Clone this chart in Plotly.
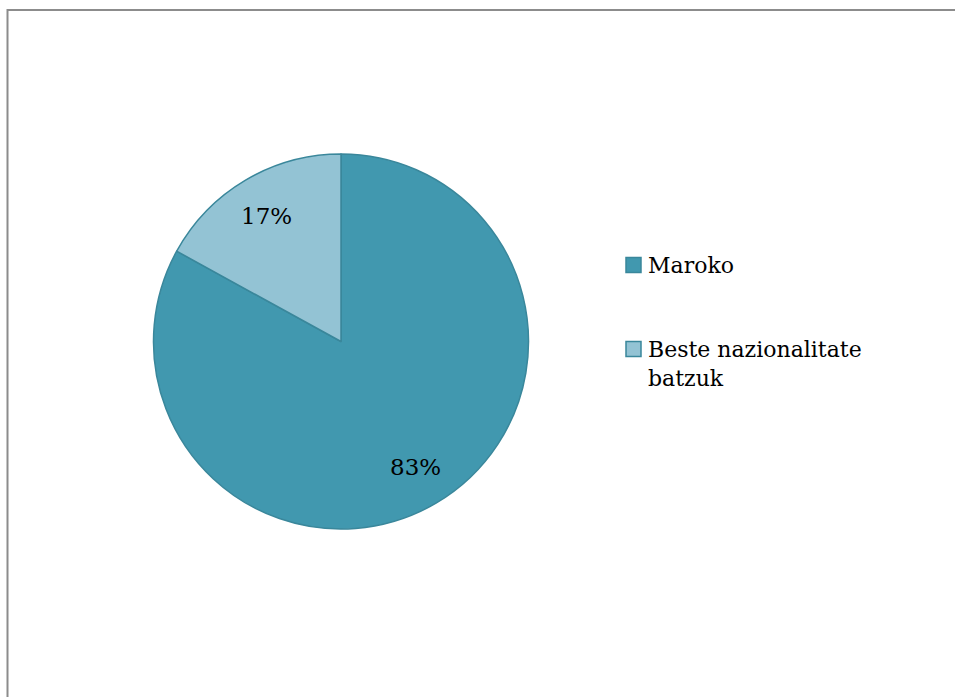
import math
import plotly.graph_objects as go

labels = ["Maroko", "Beste nazionalitate batzuk"]
legend_text = ["Maroko", "Beste nazionalitate<br>batzuk"]
values = [83, 17]
colors = ["#4198AF", "#93C3D4"]
edge_color = "#3A879B"

W, H = 955, 697
cx, cy, R = 341, 341.5, 187.5
FONT = "DejaVu Serif"

fig = go.Figure(go.Pie(
    labels=labels, values=values, sort=False, direction="clockwise", rotation=0,
    marker=dict(colors=colors, line=dict(color=edge_color, width=1.5)),
    textinfo="none", hoverinfo="label+percent", showlegend=False,
    domain=dict(x=[(cx - R) / W, (cx + R) / W], y=[1 - (cy + R) / H, 1 - (cy - R) / H]),
))

annotations = []
total = sum(values)
cum = 0
for v in values:
    mid = (cum + v / 2) / total * 2 * math.pi
    cum += v
    r = 0.78 * R
    px = cx + r * math.sin(mid)
    py = cy - r * math.cos(mid)
    annotations.append(dict(x=px / W, y=1 - py / H, xref="paper", yref="paper",
                            text=f"{round(v / total * 100)}%", showarrow=False,
                            font=dict(family=FONT, size=23, color="#000000"),
                            xanchor="center", yanchor="middle"))

shapes = []
legend_y = [265, 349]
for i, (t, c) in enumerate(zip(legend_text, colors)):
    y = legend_y[i]
    shapes.append(dict(type="rect", xref="paper", yref="paper",
                       x0=626 / W, x1=641 / W, y0=1 - (y - 7.5) / H, y1=1 - (y + 7.5) / H,
                       fillcolor=c, line=dict(color=edge_color, width=1.5)))
    annotations.append(dict(x=646 / W, y=1 - (y - 14) / H, xref="paper", yref="paper",
                            text=t, showarrow=False, align="left",
                            font=dict(family=FONT, size=22, color="#000000"),
                            xanchor="left", yanchor="top"))

shapes.append(dict(type="path", xref="paper", yref="paper",
                   path=f"M {7.5 / W} -0.05 L {7.5 / W} {1 - 10 / H} L 1.05 {1 - 10 / H}",
                   line=dict(color="#8C8C8C", width=2)))

fig.update_layout(
    width=W, height=H, margin=dict(l=0, r=0, t=0, b=0),
    paper_bgcolor="white", plot_bgcolor="white",
    shapes=shapes, annotations=annotations, showlegend=False,
)
fig.write_html("out.html", config={"displayModeBar": False},
               post_script="document.body.style.margin='0';document.body.style.overflow='hidden';")
